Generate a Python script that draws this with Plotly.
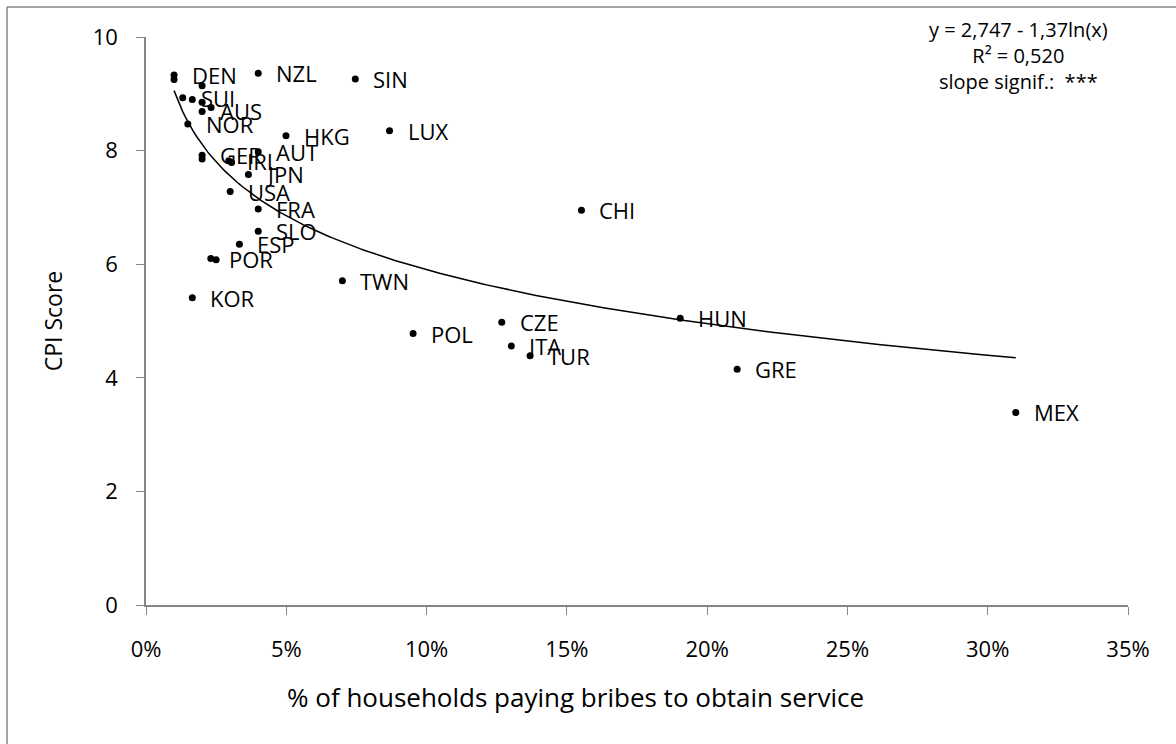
import numpy as np
import plotly.graph_objects as go

# Country codes ("" = unlabeled point), share of households paying bribes, CPI score
countries = ["DEN", "", "NZL", "SIN", "", "SUI", "", "", "", "AUS", "NOR", "HKG",
             "LUX", "AUT", "GER", "", "IRL", "", "JPN", "USA", "FRA", "SLO", "ESP",
             "POR", "", "KOR", "TWN", "CHI", "HUN", "CZE", "POL", "ITA", "TUR",
             "GRE", "MEX"]
bribe_share = [0.010, 0.010, 0.040, 0.0746, 0.020, 0.0131, 0.0165, 0.020, 0.0232,
               0.020, 0.0149, 0.0499, 0.0868, 0.040, 0.020, 0.020, 0.0295, 0.0305,
               0.0365, 0.030, 0.040, 0.040, 0.0333, 0.0231, 0.025, 0.0165, 0.070,
               0.1552, 0.1904, 0.1268, 0.0952, 0.1302, 0.1369, 0.2107, 0.310]
cpi_score = [9.33, 9.25, 9.36, 9.26, 9.14, 8.93, 8.90, 8.85, 8.76, 8.69, 8.47, 8.26,
             8.35, 7.98, 7.92, 7.85, 7.82, 7.79, 7.58, 7.28, 6.97, 6.58, 6.35,
             6.10, 6.08, 5.41, 5.71, 6.95, 5.05, 4.98, 4.78, 4.56, 4.39, 4.15, 3.39]

# Logarithmic trend: y = a + b ln(x)
trend_a, trend_b = 2.747, -1.37
trend_x_range = [0.01, 0.31]
x_ticks = [0, 0.05, 0.10, 0.15, 0.20, 0.25, 0.30, 0.35]
y_ticks = [0, 2, 4, 6, 8, 10]

FONT = "Open Sans"
FS = 22
AXIS_GREY = "#868686"

tx = np.linspace(trend_x_range[0], trend_x_range[1], 300)
ty = trend_a + trend_b * np.log(tx)

fig = go.Figure()
fig.add_trace(go.Scatter(x=tx, y=ty, mode="lines",
                         line=dict(color="black", width=1.5),
                         hoverinfo="skip", showlegend=False))
fig.add_trace(go.Scatter(x=bribe_share, y=cpi_score, mode="markers",
                         marker=dict(color="black", size=7),
                         text=countries, showlegend=False))

annotations = []
for name, xv, yv in zip(countries, bribe_share, cpi_score):
    if not name:
        continue
    annotations.append(dict(x=xv, y=yv, text=name, showarrow=False,
                            xanchor="left", yanchor="middle", xshift=16,
                            font=dict(family=FONT, size=FS, color="black")))

# Regression summary box
annotations.append(dict(
    xref="paper", yref="paper", x=0.888, y=1.04, xanchor="center", yanchor="top",
    text="y = 2,747 - 1,37ln(x)<br>R² = 0,520<br>slope signif.:  ***",
    align="center", showarrow=False,
    font=dict(family=FONT, size=FS - 2, color="black")))

# X-axis title, centred on the chart area rather than the plot area
annotations.append(dict(
    xref="paper", yref="paper", x=0.437, y=-0.162, xanchor="center", yanchor="middle",
    text="% of households paying bribes to obtain service", showarrow=False,
    font=dict(family=FONT, size=26, color="black")))

fig.update_layout(
    width=1176, height=744,
    margin=dict(l=146, r=48, t=37, b=139),
    paper_bgcolor="white", plot_bgcolor="white",
    font=dict(family=FONT, size=FS, color="black"),
    annotations=annotations,
    shapes=[
        dict(type="line", xref="paper", yref="paper",
             x0=(7 - 146) / 982, x1=(7 - 146) / 982,
             y0=(605 - 744) / 568, y1=(605 - 7) / 568,
             line=dict(color=AXIS_GREY, width=1.5)),
        dict(type="line", xref="paper", yref="paper",
             x0=(7 - 146) / 982, x1=(1176 - 146) / 982,
             y0=(605 - 7) / 568, y1=(605 - 7) / 568,
             line=dict(color=AXIS_GREY, width=1.5)),
    ],
    xaxis=dict(range=[0, 0.35], tickvals=x_ticks, tickformat=".0%",
               showgrid=False, zeroline=False, showline=True,
               linecolor=AXIS_GREY, linewidth=1.5, ticks="outside",
               ticklen=8, tickcolor=AXIS_GREY, ticklabelstandoff=16),
    yaxis=dict(range=[0, 10], tickvals=y_ticks,
               showgrid=False, zeroline=False, showline=True,
               linecolor=AXIS_GREY, linewidth=1.5, ticks="outside",
               ticklen=8, tickcolor=AXIS_GREY, ticklabelstandoff=14,
               title=dict(text="CPI Score", standoff=24,
                          font=dict(family=FONT, size=23, color="black"))),
)

fig.write_html("out.html")
